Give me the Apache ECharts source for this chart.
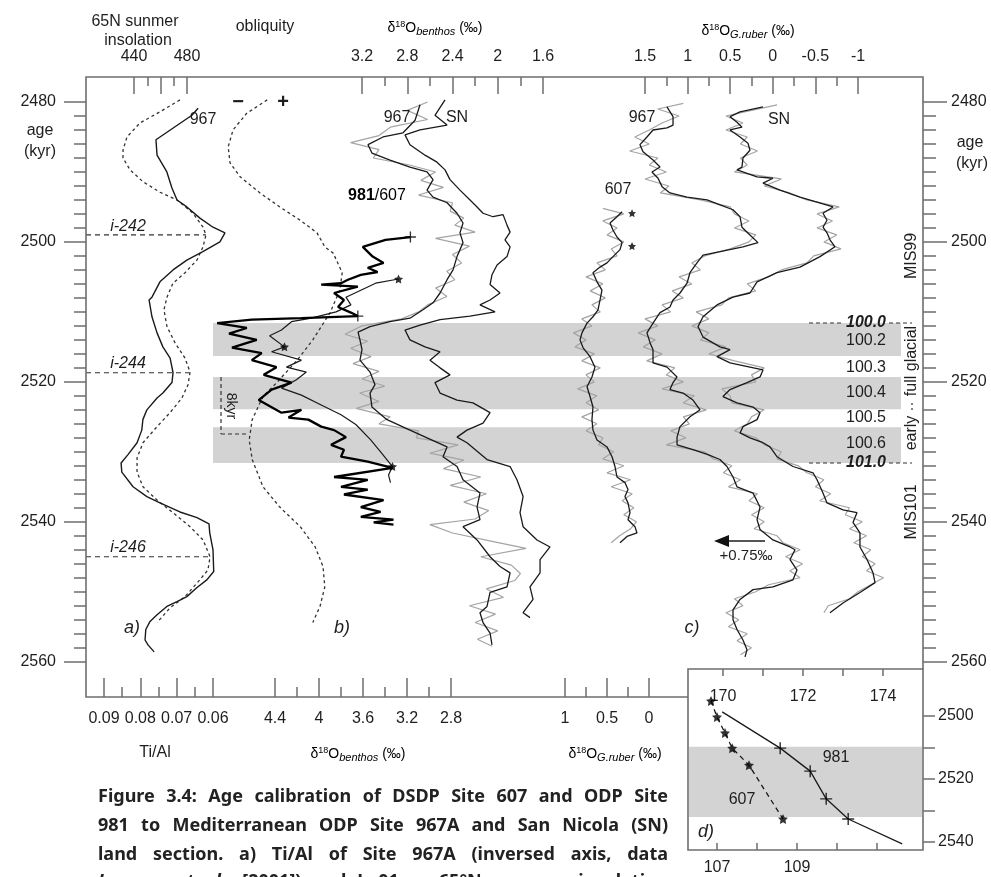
<!DOCTYPE html>
<html><head><meta charset="utf-8">
<script src="https://cdn.jsdelivr.net/npm/echarts@6/dist/echarts.min.js"></script>
<style>html,body{margin:0;padding:0;background:#fff}#c{width:991px;height:877px}</style>
</head><body><div id="c"></div>
<script>
// ================= DATA (age kyr, value) =================
const ageMajor = [2480, 2500, 2520, 2540, 2560];
const insolTicksMajor = [440, 460, 480], insolLabels = [440, 480], insolTicksMinor = [450, 470];
const tialTicksMajor = [0.09, 0.08, 0.07, 0.06], tialTicksMinor = [0.085, 0.075, 0.065];
const benTopMajor = [3.2, 2.8, 2.4, 2.0, 1.6], benTopMinor = [3.0, 2.6, 2.2, 1.8];
const benBotMajor = [4.4, 4.0, 3.6, 3.2, 2.8], benBotMinor = [4.2, 3.8, 3.4, 3.0];
const grTopMajor = [1.5, 1, 0.5, 0, -0.5, -1], grTopMinor = [1.25, 0.75, 0.25, -0.25, -0.75];
const grBotMajor = [1, 0.5, 0], grBotMinor = [0.75, 0.25];
const insetAgeTicks = [2500, 2510, 2520, 2530, 2540], insetAgeLabels = [2500, 2520, 2540];
const inset981Ticks = [170, 171, 172, 173, 174], inset981Labels = [170, 172, 174];
const inset607Ticks = [107, 108, 109, 110, 111], inset607Labels = [107, 109];

const bandStart = [2511.6, 2519.3, 2526.5];
const bandEnd   = [2516.3, 2523.9, 2531.6];
const insetBand = [2509.8, 2532.1];

// insolation cycles i-242, i-244, i-246
const iAge = [2499.0, 2518.7, 2545.0];
const iIns = [494.3, 482.3, 497.4];

// a) Ti/Al 967 (inversed axis)
const tiAl967 = [[2480.9,0.0641],[2481.9,0.0658],[2485.4,0.0757],[2487.6,0.0754],[2490.0,0.0727],[2492.3,0.0713],[2494.0,0.0699],[2495.0,0.0672],[2496.6,0.0636],[2497.9,0.0600],[2498.7,0.0567],[2500.0,0.0581],[2501.4,0.0628],[2502.6,0.0672],[2504.0,0.0710],[2505.7,0.0746],[2507.9,0.0768],[2508.3,0.0776],[2510.7,0.0768],[2513.0,0.0754],[2515.0,0.0738],[2516.6,0.0718],[2518.7,0.0710],[2520.1,0.0713],[2521.6,0.0738],[2522.3,0.0754],[2524.0,0.0782],[2525.4,0.0793],[2526.9,0.0796],[2528.7,0.0809],[2530.4,0.0834],[2531.6,0.0853],[2532.9,0.0851],[2535.0,0.0820],[2536.4,0.0782],[2537.3,0.0746],[2538.6,0.0691],[2539.4,0.0644],[2540.3,0.0611],[2541.6,0.0609],[2544.0,0.0600],[2547.1,0.0598],[2548.3,0.0617],[2549.4,0.0644],[2550.7,0.0672],[2551.4,0.0699],[2552.1,0.0727],[2553.3,0.0754],[2554.3,0.0774],[2555.4,0.0785],[2556.9,0.0787],[2557.6,0.0779],[2558.6,0.0762]];
// a) 65N summer insolation (W/m2)
const insol = [[2479.7,474.7],[2481.4,459.6],[2483.0,444.5],[2485.0,434.7],[2486.9,431.7],[2488.0,431.7],[2489.7,437.0],[2491.4,446.8],[2492.9,459.6],[2494.0,472.5],[2495.9,484.5],[2497.9,492.1],[2499.0,494.3],[2500.7,492.1],[2502.6,487.5],[2504.4,478.5],[2505.9,469.4],[2507.9,464.9],[2509.7,462.6],[2512.1,464.9],[2514.4,470.9],[2516.6,478.5],[2518.6,482.3],[2520.4,480.8],[2522.3,476.2],[2524.4,467.2],[2526.4,457.4],[2528.7,446.8],[2530.9,442.3],[2532.9,442.3],[2535.0,446.8],[2536.9,457.4],[2538.7,469.4],[2540.7,482.3],[2542.6,492.1],[2545.0,497.4],[2546.9,495.8],[2548.6,488.3],[2550.7,478.5],[2552.3,467.2],[2554.4,457.4]];
// b) obliquity (deg)
const obliq = [[2479.7,23.12],[2481.6,22.78],[2484.0,22.55],[2486.4,22.47],[2488.7,22.50],[2490.7,22.67],[2493.0,23.00],[2495.0,23.33],[2496.9,23.67],[2498.7,23.95],[2500.7,24.08],[2501.6,24.22],[2504.4,24.37],[2506.9,24.33],[2510.1,24.17],[2514.0,23.88],[2516.9,23.62],[2520.1,23.28],[2522.1,23.05],[2525.4,22.87],[2528.3,22.82],[2531.1,22.87],[2535.0,23.05],[2537.9,23.33],[2540.7,23.67],[2543.6,23.92],[2546.4,24.05],[2549.3,24.08],[2552.1,24.00],[2554.4,23.88]];
// b) benthic d18O Site 981 (bottom axis)
const ben981 = [[2499.3,3.169],[2499.7,3.395],[2500.7,3.602],[2502.1,3.512],[2503.0,3.413],[2503.7,3.557],[2504.3,3.467],[2504.7,3.620],[2505.4,3.737],[2505.9,3.800],[2506.1,3.980],[2506.4,3.647],[2507.3,3.863],[2508.3,3.773],[2509.3,3.827],[2510.1,3.710],[2510.6,3.647],[2510.9,4.160],[2511.1,4.611],[2511.6,4.926],[2512.3,4.656],[2513.1,4.818],[2514.0,4.566],[2515.1,4.791],[2515.9,4.521],[2516.9,4.611],[2517.9,4.386],[2519.0,4.503],[2520.1,4.250],[2521.1,4.431],[2522.6,4.548],[2524.4,4.341],[2524.0,4.160],[2525.1,4.277],[2525.4,4.097],[2526.4,3.980],[2526.9,3.863],[2527.9,3.755],[2529.0,3.890],[2529.7,3.773],[2530.7,3.800],[2531.4,3.557],[2532.3,3.332],[2533.6,3.863],[2534.0,3.557],[2535.0,3.800],[2535.4,3.557],[2536.1,3.773],[2536.9,3.413],[2537.9,3.620],[2538.6,3.440],[2539.3,3.620],[2539.7,3.323],[2540.1,3.503],[2540.4,3.323]];
// b) benthic d18O Site 607 (bottom axis)
const ben607 = [[2505.3,3.277],[2505.9,3.485],[2506.9,3.620],[2507.9,3.755],[2509.0,3.710],[2510.0,3.845],[2510.9,4.070],[2511.4,4.250],[2512.6,4.341],[2513.4,4.449],[2515.0,4.314],[2515.7,4.431],[2516.9,4.160],[2517.9,4.296],[2518.6,4.115],[2519.7,4.205],[2520.9,4.341],[2521.9,4.160],[2523.3,3.980],[2524.7,3.800],[2526.1,3.665],[2528.3,3.530],[2530.0,3.440],[2532.1,3.332],[2533.3,3.368],[2534.4,3.350]];
const ben607Stars = [[2505.3,3.277],[2515.0,4.314],[2532.1,3.332]];
const ben981Plus = [[2499.3,3.169],[2510.6,3.647]];
// b) benthic d18O Site 967 (top axis), smoothed and raw
const ben967 = [[2480.4,2.687],[2482.6,2.731],[2484.4,2.837],[2485.0,3.014],[2486.1,3.147],[2487.3,3.112],[2488.3,2.952],[2489.3,2.776],[2490.0,2.625],[2491.1,2.572],[2492.6,2.625],[2493.6,2.572],[2494.4,2.448],[2495.9,2.360],[2497.3,2.307],[2498.7,2.334],[2500.1,2.307],[2502.1,2.360],[2504.0,2.395],[2505.4,2.448],[2507.3,2.510],[2508.7,2.572],[2509.7,2.661],[2510.9,2.776],[2511.4,2.952],[2512.1,3.129],[2512.9,3.235],[2514.0,3.218],[2515.4,3.200],[2516.9,3.218],[2518.6,3.129],[2520.4,3.085],[2521.6,3.129],[2523.6,3.112],[2525.4,2.979],[2526.9,2.776],[2528.0,2.625],[2529.3,2.448],[2530.7,2.484],[2532.1,2.360],[2534.0,2.307],[2535.9,2.157],[2537.9,2.183],[2539.7,2.157],[2540.7,2.307],[2542.6,2.183],[2545.0,2.068],[2546.4,1.980],[2547.3,1.891],[2549.3,1.918],[2550.1,2.068],[2552.1,2.095],[2553.0,2.157],[2554.4,2.130],[2555.9,2.068],[2557.6,2.051]];
const ben967Raw = [[2480.0,2.62],[2481.2,2.80],[2482.5,2.62],[2483.6,2.95],[2484.8,3.05],[2485.8,3.30],[2486.8,3.05],[2488.0,3.10],[2489.0,2.78],[2490.0,2.55],[2491.2,2.68],[2492.2,2.48],[2493.3,2.70],[2494.4,2.40],[2495.6,2.42],[2496.6,2.30],[2497.6,2.38],[2498.6,2.20],[2499.5,2.55],[2500.6,2.25],[2501.8,2.40],[2503.0,2.32],[2504.2,2.45],[2505.4,2.38],[2506.6,2.55],[2507.8,2.45],[2509.0,2.62],[2510.0,2.70],[2511.0,2.85],[2512.0,3.20],[2513.2,3.35],[2514.2,3.15],[2515.2,3.30],[2516.4,3.12],[2517.4,3.28],[2518.5,3.05],[2519.6,3.20],[2520.6,3.00],[2521.6,3.22],[2522.8,3.05],[2523.8,3.25],[2525.0,2.95],[2526.0,3.05],[2527.0,2.70],[2528.0,2.72],[2529.0,2.35],[2530.2,2.60],[2531.2,2.30],[2532.4,2.48],[2533.6,2.15],[2534.8,2.42],[2536.0,2.10],[2537.2,2.30],[2538.4,2.08],[2539.6,2.20],[2540.4,2.60],[2541.6,2.40],[2542.8,2.05],[2543.8,1.75],[2545.0,2.15],[2546.2,1.88],[2547.4,1.80],[2548.4,1.85],[2549.6,2.10],[2550.8,1.95],[2552.0,2.25],[2553.2,2.02],[2554.4,2.20],[2555.6,2.00],[2556.8,2.18],[2557.8,2.05]];
// b) benthic d18O San Nicola (top axis)
const benSN = [[2479.7,2.466],[2481.9,2.555],[2483.3,2.448],[2484.0,2.687],[2484.7,2.820],[2486.1,2.776],[2487.6,2.643],[2488.6,2.537],[2489.7,2.466],[2491.1,2.422],[2492.6,2.334],[2494.0,2.245],[2495.0,2.183],[2495.9,2.130],[2496.4,2.042],[2496.1,1.953],[2497.6,1.918],[2498.6,1.891],[2499.7,1.936],[2500.7,1.891],[2502.1,1.918],[2503.3,2.006],[2504.7,2.051],[2506.1,2.068],[2507.3,1.980],[2508.3,2.068],[2509.0,2.157],[2510.0,2.024],[2510.6,2.245],[2511.1,2.510],[2511.9,2.687],[2512.6,2.820],[2514.0,2.776],[2515.0,2.643],[2515.7,2.510],[2516.9,2.599],[2518.0,2.510],[2519.0,2.422],[2520.1,2.555],[2521.6,2.510],[2522.6,2.360],[2523.0,2.219],[2524.4,2.068],[2525.9,2.130],[2526.9,2.272],[2527.9,2.360],[2528.7,2.272],[2531.1,2.095],[2532.1,1.891],[2534.0,1.830],[2536.4,1.776],[2538.7,1.803],[2540.7,1.776],[2542.6,1.653],[2543.6,1.538],[2545.4,1.626],[2547.3,1.626],[2549.3,1.715],[2551.1,1.688],[2553.0,1.776],[2553.7,1.715]];
// c) G. ruber d18O Site 607 (bottom axis)
const gr607 = [[2495.7,0.321],[2496.4,0.381],[2497.3,0.464],[2498.3,0.429],[2499.3,0.381],[2500.1,0.321],[2501.1,0.345],[2502.1,0.429],[2503.0,0.500],[2503.6,0.583],[2504.4,0.667],[2505.7,0.619],[2506.9,0.560],[2508.3,0.583],[2509.7,0.607],[2510.7,0.667],[2511.6,0.738],[2513.0,0.798],[2514.0,0.821],[2515.1,0.786],[2516.4,0.702],[2517.9,0.643],[2519.3,0.679],[2520.7,0.738],[2522.1,0.702],[2523.6,0.667],[2525.4,0.679],[2526.9,0.667],[2528.3,0.619],[2529.3,0.500],[2530.7,0.440],[2532.1,0.405],[2533.6,0.381],[2534.4,0.286],[2535.4,0.250],[2536.4,0.286],[2537.3,0.250],[2538.7,0.226],[2539.7,0.250],[2540.7,0.167],[2541.6,0.143],[2542.1,0.262],[2543.0,0.345]];
const gr607Raw = [[2495.2,0.55],[2496.0,0.30],[2497.0,0.55],[2498.0,0.38],[2499.0,0.50],[2500.0,0.30],[2501.0,0.45],[2502.0,0.38],[2503.0,0.62],[2504.0,0.52],[2505.0,0.75],[2506.0,0.55],[2507.0,0.70],[2508.0,0.52],[2509.0,0.68],[2510.0,0.58],[2511.0,0.80],[2512.0,0.68],[2513.0,0.90],[2514.0,0.75],[2515.0,0.88],[2516.0,0.65],[2517.0,0.80],[2518.0,0.58],[2519.0,0.75],[2520.0,0.65],[2521.0,0.85],[2522.0,0.62],[2523.0,0.75],[2524.0,0.60],[2525.0,0.80],[2526.0,0.62],[2527.0,0.75],[2528.0,0.55],[2529.0,0.60],[2530.0,0.42],[2531.0,0.55],[2532.0,0.30],[2533.0,0.50],[2534.0,0.22],[2535.0,0.45],[2536.0,0.20],[2537.0,0.32],[2538.0,0.18],[2539.0,0.30],[2540.0,0.15],[2541.0,0.22],[2542.0,0.35],[2543.0,0.45]];
const gr607Stars = [[2495.9,0.202],[2500.6,0.202]];
// c) G. ruber d18O Site 967 (top axis)
const gr967 = [[2480.7,1.242],[2482.1,1.171],[2483.3,1.171],[2483.7,1.242],[2484.0,1.406],[2485.0,1.477],[2486.1,1.559],[2487.1,1.523],[2488.3,1.406],[2489.3,1.324],[2490.0,1.418],[2490.9,1.347],[2492.1,1.300],[2493.0,1.207],[2493.6,1.007],[2494.0,0.772],[2494.7,0.620],[2495.4,0.467],[2496.4,0.385],[2497.9,0.362],[2499.0,0.268],[2500.1,0.174],[2500.7,0.350],[2501.4,0.620],[2501.9,0.819],[2503.0,0.890],[2504.4,0.972],[2505.9,1.007],[2507.3,1.089],[2508.3,1.171],[2509.3,1.207],[2510.1,1.324],[2511.6,1.406],[2513.0,1.477],[2514.4,1.441],[2515.4,1.406],[2517.3,1.406],[2517.9,1.242],[2519.3,1.124],[2520.1,1.171],[2521.1,1.207],[2521.6,1.054],[2522.6,0.937],[2524.0,0.854],[2525.0,0.972],[2526.4,1.089],[2527.9,1.124],[2529.0,1.124],[2529.7,0.937],[2530.4,0.761],[2531.1,0.620],[2532.1,0.538],[2533.6,0.467],[2535.0,0.420],[2535.9,0.232],[2537.9,0.150],[2539.7,0.185],[2541.1,0.150],[2542.6,-0.002],[2543.6,-0.202],[2544.0,-0.261],[2545.4,-0.202],[2546.9,-0.284],[2548.3,-0.237],[2549.3,-0.002],[2549.7,0.232],[2551.1,0.385],[2552.6,0.467],[2554.0,0.467],[2555.4,0.420],[2556.9,0.350],[2558.3,0.303],[2559.3,0.326]];
const gr967Raw = [[2480.2,1.05],[2481.0,1.35],[2482.0,1.10],[2483.0,1.30],[2484.0,1.45],[2485.0,1.62],[2486.0,1.45],[2487.0,1.68],[2488.0,1.35],[2489.0,1.45],[2490.0,1.25],[2491.0,1.50],[2492.0,1.22],[2493.0,1.32],[2494.0,0.85],[2495.0,0.50],[2496.0,0.45],[2497.0,0.28],[2498.0,0.45],[2499.0,0.20],[2500.0,0.28],[2501.0,0.50],[2502.0,0.80],[2503.0,0.95],[2504.0,0.85],[2505.0,1.10],[2506.0,0.95],[2507.0,1.18],[2508.0,1.05],[2509.0,1.30],[2510.0,1.20],[2511.0,1.50],[2512.0,1.35],[2513.0,1.58],[2514.0,1.38],[2515.0,1.52],[2516.0,1.30],[2517.0,1.48],[2518.0,1.15],[2519.0,1.25],[2520.0,1.05],[2521.0,1.30],[2522.0,0.92],[2523.0,1.05],[2524.0,0.78],[2525.0,1.05],[2526.0,0.98],[2527.0,1.20],[2528.0,1.02],[2529.0,1.25],[2530.0,0.80],[2531.0,0.70],[2532.0,0.48],[2533.0,0.58],[2534.0,0.38],[2535.0,0.52],[2536.0,0.18],[2537.0,0.28],[2538.0,0.10],[2539.0,0.25],[2540.0,0.10],[2541.0,0.22],[2542.0,-0.05],[2543.0,-0.12],[2544.0,-0.32],[2545.0,-0.15],[2546.0,-0.35],[2547.0,-0.20],[2548.0,-0.32],[2549.0,0.05],[2550.0,0.20],[2551.0,0.45],[2552.0,0.35],[2553.0,0.55],[2554.0,0.40],[2555.0,0.52],[2556.0,0.30],[2557.0,0.42],[2558.0,0.25],[2559.0,0.38]];
// c) G. ruber d18O San Nicola (top axis)
const grSN = [[2480.7,0.115],[2481.4,0.385],[2482.1,0.502],[2482.9,0.420],[2483.6,0.362],[2484.0,0.502],[2485.0,0.385],[2485.9,0.291],[2486.9,0.268],[2488.0,0.350],[2489.3,0.362],[2489.7,0.420],[2490.7,0.185],[2490.9,-0.002],[2491.6,0.115],[2492.6,-0.085],[2493.6,-0.319],[2494.3,-0.519],[2495.0,-0.707],[2495.9,-0.589],[2496.9,-0.636],[2497.9,-0.589],[2498.7,-0.636],[2499.7,-0.671],[2500.7,-0.730],[2502.1,-0.554],[2503.6,-0.319],[2504.4,-0.049],[2505.7,0.185],[2507.3,0.268],[2507.9,0.467],[2509.0,0.655],[2510.7,0.819],[2512.1,0.878],[2513.6,0.819],[2515.0,0.620],[2515.4,0.502],[2516.4,0.655],[2517.3,0.502],[2517.9,0.268],[2518.3,0.115],[2519.3,0.150],[2520.1,0.303],[2521.1,0.502],[2522.1,0.585],[2523.0,0.420],[2523.6,0.232],[2524.4,0.150],[2525.4,0.185],[2526.4,0.350],[2527.3,0.385],[2528.0,0.268],[2528.7,0.115],[2529.3,0.033],[2530.7,-0.049],[2532.1,-0.237],[2533.0,-0.472],[2534.0,-0.519],[2535.9,-0.589],[2537.3,-0.636],[2538.3,-0.824],[2538.7,-0.988],[2540.1,-0.941],[2541.6,-1.023],[2543.6,-1.023],[2545.4,-1.106],[2547.3,-1.176],[2548.7,-1.200],[2550.1,-1.023],[2551.6,-0.824],[2553.0,-0.671]];
const grSNRaw = [[2480.4,-0.05],[2481.2,0.25],[2482.0,0.55],[2483.0,0.35],[2484.0,0.55],[2485.0,0.30],[2486.0,0.38],[2487.0,0.18],[2488.0,0.38],[2489.0,0.30],[2490.0,0.45],[2491.0,-0.10],[2492.0,0.10],[2493.0,-0.20],[2494.0,-0.40],[2495.0,-0.78],[2496.0,-0.52],[2497.0,-0.70],[2498.0,-0.52],[2499.0,-0.75],[2500.0,-0.60],[2501.0,-0.80],[2502.0,-0.48],[2503.0,-0.40],[2504.0,-0.10],[2505.0,0.05],[2506.0,0.30],[2507.0,0.20],[2508.0,0.52],[2509.0,0.60],[2510.0,0.90],[2511.0,0.75],[2512.0,0.95],[2513.0,0.75],[2514.0,0.85],[2515.0,0.55],[2516.0,0.75],[2517.0,0.45],[2518.0,0.10],[2519.0,0.25],[2520.0,0.20],[2521.0,0.60],[2522.0,0.50],[2523.0,0.48],[2524.0,0.10],[2525.0,0.25],[2526.0,0.30],[2527.0,0.45],[2528.0,0.20],[2529.0,0.10],[2530.0,-0.10],[2531.0,-0.05],[2532.0,-0.30],[2533.0,-0.40],[2534.0,-0.60],[2535.0,-0.50],[2536.0,-0.68],[2537.0,-0.55],[2538.0,-0.90],[2539.0,-0.85],[2540.0,-1.05],[2541.0,-0.90],[2542.0,-1.10],[2543.0,-0.95],[2544.0,-1.15],[2545.0,-1.05],[2546.0,-1.20],[2547.0,-1.10],[2548.0,-1.30],[2549.0,-1.15],[2550.0,-1.00],[2551.0,-0.90],[2552.0,-0.65],[2553.0,-0.60]];
// d) tie points: depth (mcd) vs age
const tie981 = [[2498.7,169.98],[2510.2,171.43],[2517.5,172.18],[2526.3,172.58],[2532.7,173.13],[2540.6,174.48]];
const tie981Plus = [[2510.2,171.43],[2517.5,172.18],[2526.3,172.58],[2532.7,173.13]];
const tie607 = [[2495.2,106.85],[2500.3,107.0],[2505.4,107.2],[2510.2,107.38],[2515.6,107.8],[2532.7,108.65]];

// ================= LAYOUT =================
const FF = "'Liberation Sans', Arial, sans-serif";
const TXT = '#1e1e1e', AX = '#6e6e6e', INK = '#1a1a1a', RAW = '#a4a4a4', BAND = '#d3d3d3';
const L = 86, R = 923, T = 77, B = 697;            // main frame
const IL = 688, IR = 923, IT = 669, IB = 850;      // inset frame

function linX(p1, v1, p2, v2, e1, e2) {
  const k = (v2 - v1) / (p2 - p1);
  const a = v1 + (e1 - p1) * k, b = v1 + (e2 - p1) * k;
  return a < b ? {min: a, max: b, inverse: false} : {min: b, max: a, inverse: true};
}
function linY(p1, v1, p2, v2, e1, e2) {
  const k = (v2 - v1) / (p2 - p1);
  const a = v1 + (e1 - p1) * k, b = v1 + (e2 - p1) * k;
  return a < b ? {min: a, max: b, inverse: true} : {min: b, max: a, inverse: false};
}
const rPx = {min: L, max: R, inverse: false};
const rIns = linX(134, 440, 187, 480, L, R);
const rTi = linX(104, 0.09, 213, 0.06, L, R);
const rObl = linX(230, 22.5, 350, 24.5, L, R);
const rBenT = linX(362, 3.2, 543, 1.6, L, R);
const rBenB = linX(275, 4.4, 451, 2.8, L, R);
const rGrT = linX(645, 1.5, 858, -1, L, R);
const rGrB = linX(565, 1, 649, 0, L, R);
const rAge = linY(102, 2480, 661.7, 2560, T, B);
const rI981 = linX(723, 170, 883, 174, IL, IR);
const rI607 = linX(717, 107, 797, 109, IL, IR);
const rIAge = linY(716, 2500, 842, 2540, IT, IB);
const fmt = v => String(v);

function xAxis(grid, pos, rng, ticks, labels, len, margin, inside) {
  return {
    type: 'value', gridIndex: grid, position: pos, min: rng.min, max: rng.max, inverse: rng.inverse,
    show: ticks !== null,
    axisLine: {show: false, onZero: false}, splitLine: {show: false},
    axisTick: {show: !!ticks, inside: true, length: len, customValues: ticks || [], lineStyle: {color: AX, width: 1.5}},
    axisLabel: {show: !!(labels && labels.length), inside: !!inside, customValues: labels || [], margin: margin,
      formatter: fmt, color: TXT, fontSize: 16, fontFamily: FF}
  };
}
function yAxis(grid, pos, rng, ticks, labels, len, margin) {
  return {
    type: 'value', gridIndex: grid, position: pos, min: rng.min, max: rng.max, inverse: rng.inverse,
    axisLine: {show: false, onZero: false}, splitLine: {show: false},
    axisTick: {show: true, inside: false, length: len, customValues: ticks, lineStyle: {color: AX, width: 1.5}},
    axisLabel: {show: !!(labels && labels.length), customValues: labels || [], margin: margin,
      formatter: fmt, color: TXT, fontSize: 16, fontFamily: FF}
  };
}
const ageMinor = [];
for (let a = ageMajor[0]; a <= ageMajor[ageMajor.length - 1]; a += 2) if (ageMajor.indexOf(a) < 0) ageMinor.push(a);

const xAxes = [
  xAxis(0, 'bottom', rPx, null),                                   // 0 pixel helper
  xAxis(0, 'top', rIns, insolTicksMajor, insolLabels, 17, 12),      // 1
  xAxis(0, 'top', rIns, insolTicksMinor, [], 9, 12),                // 2
  xAxis(0, 'top', rObl, null),                                      // 3
  xAxis(0, 'bottom', rTi, tialTicksMajor, tialTicksMajor, 19, 14),  // 4
  xAxis(0, 'bottom', rTi, tialTicksMinor, [], 10, 14),              // 5
  xAxis(0, 'top', rBenT, benTopMajor, benTopMajor, 17, 12),         // 6
  xAxis(0, 'top', rBenT, benTopMinor, [], 9, 12),                   // 7
  xAxis(0, 'bottom', rBenB, benBotMajor, benBotMajor, 19, 14),      // 8
  xAxis(0, 'bottom', rBenB, benBotMinor, [], 10, 14),               // 9
  xAxis(0, 'top', rGrT, grTopMajor, grTopMajor, 17, 12),            // 10
  xAxis(0, 'top', rGrT, grTopMinor, [], 9, 12),                     // 11
  xAxis(0, 'bottom', rGrB, grBotMajor, grBotMajor, 19, 14),         // 12
  xAxis(0, 'bottom', rGrB, grBotMinor, [], 10, 14),                 // 13
  xAxis(1, 'top', rI981, inset981Ticks, inset981Labels, 7, 20, true), // 14
  xAxis(1, 'bottom', rI607, inset607Ticks, inset607Labels, 7, 10),  // 15
  xAxis(1, 'bottom', {min: IL, max: IR, inverse: false}, null)      // 16 inset pixel helper
];
const yAxes = [
  yAxis(0, 'left', rAge, ageMajor, ageMajor, 22, 30),
  yAxis(0, 'left', rAge, ageMinor, [], 12, 30),
  yAxis(0, 'right', rAge, ageMajor, ageMajor, 24, 28),
  yAxis(0, 'right', rAge, ageMinor, [], 13, 28),
  yAxis(1, 'right', rIAge, insetAgeTicks, insetAgeLabels, 12, 15)
];

const flip = arr => arr.map(d => [d[1], d[0]]);
function line(xi, data, color, width, dash, z, yi) {
  return {type: 'line', xAxisIndex: xi, yAxisIndex: yi || 0, data: flip(data), symbol: 'none', showSymbol: false,
    smooth: false, silent: true, z: z || 3, lineStyle: {color: color, width: width, type: dash || 'solid'}};
}
const STAR = 'path://M0,-10L2.9,-4L9.5,-3.1L4.7,1.5L5.9,8.1L0,5L-5.9,8.1L-4.7,1.5L-9.5,-3.1L-2.9,-4Z';
const PLUS = 'path://M-1.2,-10H1.2V-1.2H10V1.2H1.2V10H-1.2V1.2H-10V-1.2H-1.2Z';
function marks(xi, data, sym, size, yi) {
  return {type: 'scatter', xAxisIndex: xi, yAxisIndex: yi || 0, data: flip(data), symbol: sym, symbolSize: size,
    silent: true, z: 6, itemStyle: {color: '#000'}};
}

const series = [
  {type: 'line', xAxisIndex: 0, yAxisIndex: 0, data: [[L, rAge.min]], symbol: 'none', silent: true, z: 0,
    lineStyle: {opacity: 0},
    markArea: {silent: true, itemStyle: {color: BAND}, data: bandStart.map((s, i) => [{xAxis: 213, yAxis: s}, {xAxis: 901, yAxis: bandEnd[i]}])}},
  {type: 'line', xAxisIndex: 16, yAxisIndex: 4, data: [[IL, rIAge.min]], symbol: 'none', silent: true, z: 0,
    lineStyle: {opacity: 0},
    markArea: {silent: true, itemStyle: {color: BAND}, data: [[{xAxis: IL + 1, yAxis: insetBand[0]}, {xAxis: IR - 1, yAxis: insetBand[1]}]]}},
  ...iAge.map((a, i) => ({type: 'line', xAxisIndex: 1, yAxisIndex: 0, data: [[rIns.min, a], [iIns[i], a]], symbol: 'none',
    silent: true, z: 2, lineStyle: {color: '#333', width: 1.2, type: [5, 4]}})),
  line(1, insol, '#333', 1.3, [3, 3]),
  line(4, tiAl967, INK, 1.4),
  line(3, obliq, '#333', 1.3, [3, 3]),
  line(8, ben607, INK, 1.2),
  line(8, ben981, '#000', 2.3),
  marks(8, ben607Stars, STAR, 9),
  marks(8, ben981Plus, PLUS, 11),
  line(6, ben967Raw, RAW, 1.2, null, 2),
  line(6, ben967, INK, 1.3),
  line(6, benSN, INK, 1.3),
  line(12, gr607Raw, RAW, 1.2, null, 2),
  line(12, gr607, INK, 1.3),
  marks(12, gr607Stars, STAR, 8),
  line(10, gr967Raw, RAW, 1.2, null, 2),
  line(10, gr967, INK, 1.3),
  line(10, grSNRaw, RAW, 1.2, null, 2),
  line(10, grSN, INK, 1.3),
  line(14, tie981, INK, 1.3, null, 3, 4),
  marks(14, tie981Plus, PLUS, 12, 4),
  line(15, tie607, INK, 1.3, [5, 4], 3, 4),
  marks(15, tie607, STAR, 10, 4)
];

// ---------- graphic (annotations & frame) ----------
function tx(text, x, y, o) {
  o = o || {};
  return {type: 'text', z: 100, silent: true, x: x, y: y, rotation: o.rot || 0,
    style: Object.assign({text: text, x: 0, y: 0, fill: TXT, font: (o.font || '16px') + ' ' + FF,
      align: o.align || 'center', verticalAlign: 'middle'}, o.style || {})};
}
function ln(x1, y1, x2, y2, o) {
  o = o || {};
  return {type: 'line', z: 99, silent: true, shape: {x1: x1, y1: y1, x2: x2, y2: y2},
    style: {stroke: o.color || AX, lineWidth: o.w || 1.5, lineDash: o.dash || null}};
}
const isoRich = {
  n: {fontSize: 14, fontFamily: FF, lineHeight: 20, color: TXT},
  s: {fontSize: 9, fontFamily: FF, lineHeight: 20, verticalAlign: 'top', color: TXT, padding: [2, 0, 0, 0]},
  i: {fontSize: 11, fontFamily: FF, fontStyle: 'italic', lineHeight: 20, verticalAlign: 'bottom', color: TXT, padding: [0, 0, 1, 0]}
};
function iso(sub, x, y) {
  return {type: 'text', z: 100, silent: true, x: x, y: y,
    style: {text: '{n|δ}{s|18}{n|O}{i|' + sub + '}{n| (‰)}', rich: isoRich, x: 0, y: 0, align: 'center', verticalAlign: 'middle'}};
}

const graphics = [
  {type: 'polyline', z: 99, silent: true, shape: {points: [[R, IT], [R, T], [L, T], [L, B], [IL, B]]},
    style: {stroke: AX, lineWidth: 1.6, fill: null}},
  {type: 'rect', z: 99, silent: true, shape: {x: IL, y: IT, width: IR - IL, height: IB - IT},
    style: {stroke: AX, lineWidth: 1.6, fill: null}},
  tx('65N sunmer', 135, 22), tx('insolation', 138, 41),
  tx('obliquity', 265, 27),
  iso('benthos', 435, 28), iso('G.ruber', 748, 31),
  tx('age', 40, 131), tx('(kyr)', 40, 152), tx('age', 970, 143), tx('(kyr)', 972, 164),
  tx('Ti/Al', 155, 753), iso('benthos', 358, 754), iso('G.ruber', 615, 754),
  tx('967', 203, 120),
  tx('i-242', 128, 227, {font: 'italic 16px'}), tx('i-244', 128, 364, {font: 'italic 16px'}), tx('i-246', 128, 548, {font: 'italic 16px'}),
  tx('a)', 132, 628, {font: 'italic 18px'}),
  tx('−', 238, 102, {font: 'bold 20px'}), tx('+', 283, 102, {font: 'bold 20px'}),
  tx('967', 397, 118), tx('SN', 457, 118),
  {type: 'text', z: 100, silent: true, x: 377, y: 196,
    style: {text: '{b|981}{n|/607}', align: 'center', verticalAlign: 'middle',
      rich: {b: {fontSize: 16, fontWeight: 'bold', fontFamily: FF, color: TXT}, n: {fontSize: 16, fontFamily: FF, color: TXT}}}},
  tx('b)', 342, 628, {font: 'italic 18px'}),
  ln(221, 377, 221, 434, {dash: [4, 3], color: '#333', w: 1.2}), ln(221, 434, 247, 434, {dash: [4, 3], color: '#333', w: 1.2}),
  tx('8kyr', 231, 406, {rot: -Math.PI / 2, font: '14px'}),
  tx('607', 618, 190), tx('967', 642, 118), tx('SN', 779, 120),
  tx('c)', 692, 628, {font: 'italic 18px'}),
  ln(765, 541, 726, 541, {color: '#555', w: 2}),
  {type: 'polygon', z: 100, silent: true, shape: {points: [[714, 541], [729, 535], [729, 547]]}, style: {fill: '#111'}},
  tx('+0.75‰', 746, 556, {font: '15px'}),
  tx('100.0', 866, 323, {font: 'bold italic 16px'}), tx('100.2', 866, 341), tx('100.3', 866, 368),
  tx('100.4', 866, 393), tx('100.5', 866, 418), tx('100.6', 866, 444), tx('101.0', 866, 463, {font: 'bold italic 16px'}),
  ln(809, 323, 843, 323, {dash: [4, 3], color: '#333', w: 1.2}), ln(889, 323, 912, 323, {dash: [4, 3], color: '#333', w: 1.2}),
  ln(809, 463, 843, 463, {dash: [4, 3], color: '#333', w: 1.2}), ln(889, 463, 912, 463, {dash: [4, 3], color: '#333', w: 1.2}),
  ln(912, 403, 912, 412, {dash: [2, 3], color: '#333', w: 1.2}),
  tx('full glacial', 912, 361, {rot: Math.PI / 2}), tx('early', 912, 433, {rot: Math.PI / 2}),
  tx('MIS99', 912, 256, {rot: Math.PI / 2}), tx('MIS101', 912, 512, {rot: Math.PI / 2}),
  tx('981', 836, 758), tx('607', 742, 800), tx('d)', 706, 832, {font: 'italic 18px'})
];

// caption, justified word by word
const capFont = "bold 18px 'Noto Sans', 'Open Sans', sans-serif";
const capLines = [
  'Figure 3.4: Age calibration of DSDP Site 607 and ODP Site',
  '981 to Mediterranean ODP Site 967A and San Nicola (SN)',
  'land section. a) Ti/Al of Site 967A (inversed axis, data',
  'Lourens et al., [2001]) and La01 — 65°N summer insolation'
];
const capY = [797, 826, 855, 882];
const mctx = document.createElement('canvas').getContext('2d');
capLines.forEach((lineTxt, li) => {
  const words = lineTxt.split(' ');
  const fonts = words.map((w, wi) => (li === 3 && wi < 3) ? capFont.replace('bold', 'italic bold') : capFont);
  const widths = words.map((w, wi) => { mctx.font = fonts[wi]; return mctx.measureText(w).width; });
  const total = widths.reduce((a, b) => a + b, 0);
  const gap = (668 - 98 - total) / (words.length - 1);
  let x = 98;
  words.forEach((w, wi) => {
    graphics.push({type: 'text', z: 100, silent: true, x: x, y: capY[li],
      style: {text: w, x: 0, y: 0, font: fonts[wi], fill: '#222', align: 'left', verticalAlign: 'middle'}});
    x += widths[wi] + gap;
  });
});

const chart = echarts.init(document.getElementById('c'), null, {renderer: 'canvas'});
chart.setOption({
  animation: false,
  backgroundColor: '#fff',
  grid: [
    {left: L, top: T, width: R - L, height: B - T, containLabel: false, outerBoundsMode: 'none'},
    {left: IL, top: IT, width: IR - IL, height: IB - IT, containLabel: false, outerBoundsMode: 'none'}
  ],
  xAxis: xAxes,
  yAxis: yAxes,
  series: series,
  graphic: graphics
});
</script></body></html>
